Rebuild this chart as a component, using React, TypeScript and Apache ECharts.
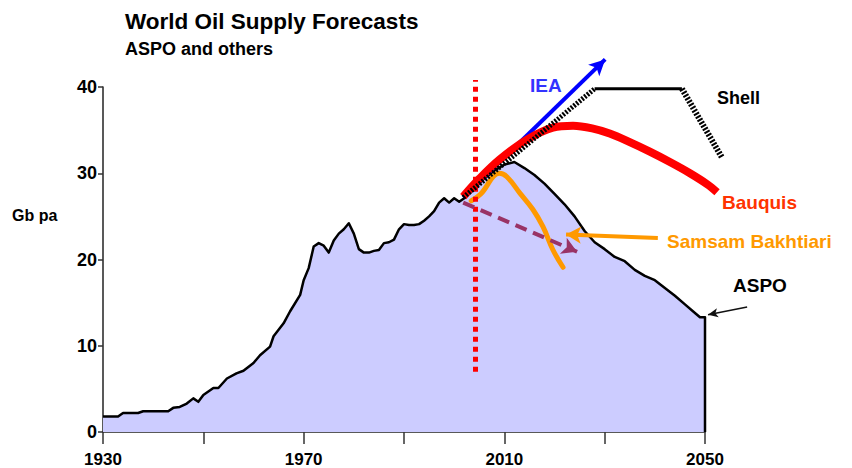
import { useEffect, useRef } from "react";
import * as echarts from "echarts";

// ---- Axis ticks ----
const xTickLabels = [1930, 1970, 2010, 2050];
const yTickValues = [0, 10, 20, 30, 40];

// ---- ASPO history + forecast (Gb per annum) ----
const aspoYears = [
  1930, 1933, 1934, 1937, 1938, 1943, 1944, 1945.3, 1946.7, 1948, 1949, 1950, 1952, 1953, 1954.7,
  1956.6, 1958, 1960, 1961.3, 1963.3, 1964, 1966, 1967.3, 1969.3, 1970, 1971, 1972, 1973, 1974,
  1975, 1976, 1977, 1978, 1979, 1980, 1981, 1982, 1983, 1984, 1985, 1986, 1987, 1988, 1989, 1990,
  1991, 1992, 1993, 1994, 1995, 1996, 1997, 1998, 1999, 2000, 2001, 2002, 2004, 2006, 2008, 2010,
  2012, 2014, 2016, 2018, 2020, 2022, 2024, 2026, 2028, 2030, 2032, 2034, 2036, 2038, 2040, 2042,
  2044, 2046, 2048, 2049, 2050, 2050,
];
const aspoValues = [
  1.8, 1.8, 2.2, 2.2, 2.4, 2.4, 2.8, 2.9, 3.3, 3.9, 3.5, 4.3, 5.1, 5.1, 6.2,
  6.8, 7.1, 8.0, 8.9, 9.9, 11.1, 12.6, 14.0, 15.9, 17.6, 19.0, 21.5, 21.9, 21.6,
  20.8, 22.2, 23.0, 23.5, 24.2, 23.0, 21.2, 20.8, 20.8, 21.0, 21.1, 21.9, 22.0, 22.3, 23.5, 24.1,
  24.0, 24.0, 24.1, 24.5, 25.0, 25.6, 26.6, 27.1, 26.6, 27.1, 26.7, 27.1, 28.2, 29.4, 30.3, 31.0,
  31.3, 30.6, 29.8, 28.8, 27.6, 26.4, 25.0, 23.3, 22.0, 21.2, 20.3, 19.8, 18.8, 18.1, 17.6, 16.7,
  15.8, 14.8, 13.8, 13.3, 13.3, 0,
];

// ---- Other forecasts ----
const bauquisYears = [2001.8, 2005.1, 2009.1, 2014.5, 2019.7, 2023.7, 2027.5, 2031, 2035, 2039, 2043, 2047, 2050.5, 2052.4];
const bauquisValues = [27.3, 29.4, 31.6, 33.9, 35.3, 35.5, 35.2, 34.6, 33.6, 32.5, 31.3, 30.0, 28.7, 27.8];

const samsamYears = [2003.4, 2005.3, 2009.0, 2010.5, 2013.1, 2015.7, 2017.7, 2019.7, 2021.7];
const samsamValues = [26.8, 27.6, 30.0, 29.6, 27.7, 25.8, 23.8, 21.1, 19.1];

const shellYears = [2001.8, 2028.0, 2045.4, 2053.4];
const shellValues = [27.2, 39.8, 39.8, 31.8];

const ieaYears = [2001.8, 2030.1];
const ieaValues = [27.2, 43.2];

const deffeyesYears = [2001.8, 2024.5];
const deffeyesValues = [26.6, 20.9];

// annotation pointers
const samsamPointerYears = [2040.6, 2022.3];
const samsamPointerValues = [22.5, 22.9];
const aspoPointerYears = [2058.4, 2050.6];
const aspoPointerValues = [14.5, 13.6];

// 2005 marker
const markerYear = 2004.2;
const markerRange = [7.0, 40.8];

const FONT = '"Liberation Sans", Arial, sans-serif';

const pairs = (xs: number[], ys: number[]) => xs.map((x, i) => [x, ys[i]]);

function arrowSeries(
  name: string,
  xs: number[],
  ys: number[],
  color: string,
  width: number,
  type: any,
  size: number[],
  z: number
) {
  return {
    name,
    type: "line",
    xAxisIndex: 1,
    yAxisIndex: 1,
    data: [],
    silent: true,
    z,
    markLine: {
      silent: true,
      symbol: ["none", "arrow"],
      symbolSize: size,
      label: { show: false },
      emphasis: { disabled: true },
      lineStyle: { color, width, type },
      data: [[{ coord: [xs[0], ys[0]] }, { coord: [xs[1], ys[1]] }]],
    },
  };
}

export default function App() {
  const ref = useRef<HTMLDivElement>(null);

  useEffect(() => {
    if (!ref.current) return;
    const chart = echarts.init(ref.current, null, { renderer: "svg" });

    const pxPerYear = 602 / 120;
    const pxPerUnit = 345 / 40;
    const hidXMin = 1910;
    const hidXMax = 2070;
    const hidYMax = 50;

    const shellPts = pairs(shellYears, shellValues);

    const option: any = {
      animation: false,
      backgroundColor: "#ffffff",
      grid: [
        { left: 103, top: 87, width: 602, height: 345 },
        {
          left: 103 - (1930 - hidXMin) * pxPerYear,
          width: (hidXMax - hidXMin) * pxPerYear,
          top: 432 - hidYMax * pxPerUnit,
          height: hidYMax * pxPerUnit,
        },
      ],
      xAxis: [
        {
          type: "value",
          gridIndex: 0,
          min: 1930,
          max: 2050,
          interval: 20,
          axisLine: { show: true, lineStyle: { color: "#222", width: 1.5 } },
          axisTick: { show: true, length: 12, lineStyle: { color: "#333", width: 1.5 } },
          splitLine: { show: false },
          axisLabel: {
            margin: 19,
            color: "#000",
            fontFamily: FONT,
            fontWeight: "bold",
            fontSize: 17,
            formatter: (v: number) => (xTickLabels.includes(v) ? String(v) : ""),
          },
        },
        { type: "value", gridIndex: 1, min: hidXMin, max: hidXMax, show: false },
      ],
      yAxis: [
        {
          type: "value",
          gridIndex: 0,
          min: 0,
          max: 40,
          interval: 10,
          axisLine: { show: true, lineStyle: { color: "#222", width: 1.5 } },
          axisTick: { show: true, length: 5, lineStyle: { color: "#333", width: 1.5 } },
          splitLine: { show: false },
          axisLabel: {
            margin: 6,
            color: "#000",
            fontFamily: FONT,
            fontWeight: "bold",
            fontSize: 18,
            formatter: (v: number) => (yTickValues.includes(v) ? String(v) : ""),
          },
        },
        { type: "value", gridIndex: 1, min: 0, max: hidYMax, show: false },
      ],
      series: [
        {
          name: "ASPO",
          type: "line",
          xAxisIndex: 1,
          yAxisIndex: 1,
          data: pairs(aspoYears, aspoValues),
          symbol: "none",
          silent: true,
          z: 1,
          lineStyle: { color: "#000", width: 2.5, join: "round" },
          areaStyle: { color: "#ccccff", opacity: 1 },
        },
        {
          name: "2005",
          type: "line",
          xAxisIndex: 1,
          yAxisIndex: 1,
          data: [],
          z: 2,
          markLine: {
            silent: true,
            symbol: ["none", "none"],
            label: { show: false },
            lineStyle: { color: "#ff0000", width: 5, type: [5, 5] },
            data: [[{ coord: [markerYear, markerRange[0]] }, { coord: [markerYear, markerRange[1]] }]],
          },
        },
        arrowSeries("Deffeyes", deffeyesYears, deffeyesValues, "#993366", 4, [12, 7], [13, 15], 3),
        {
          name: "Samsam Bakhtiari",
          type: "line",
          xAxisIndex: 1,
          yAxisIndex: 1,
          data: pairs(samsamYears, samsamValues),
          smooth: 0.4,
          symbol: "none",
          silent: true,
          z: 4,
          lineStyle: { color: "#ff9900", width: 5, cap: "round" },
        },
        arrowSeries("Samsam pointer", samsamPointerYears, samsamPointerValues, "#ff9900", 4, "solid", [13, 15], 4),
        arrowSeries("IEA", ieaYears, ieaValues, "#0000ff", 4, "solid", [12, 16], 5),
        {
          name: "Bauquis",
          type: "line",
          xAxisIndex: 1,
          yAxisIndex: 1,
          data: pairs(bauquisYears, bauquisValues),
          smooth: 0.35,
          symbol: "none",
          silent: true,
          z: 6,
          lineStyle: { color: "#ff0000", width: 8, cap: "butt" },
        },
        {
          name: "Shell rise",
          type: "line",
          xAxisIndex: 1,
          yAxisIndex: 1,
          data: shellPts.slice(0, 2),
          symbol: "none",
          silent: true,
          z: 7,
          lineStyle: { color: "#000", width: 5, type: [2, 1.5] },
        },
        {
          name: "Shell plateau",
          type: "line",
          xAxisIndex: 1,
          yAxisIndex: 1,
          data: shellPts.slice(1, 3),
          symbol: "none",
          silent: true,
          z: 7,
          lineStyle: { color: "#000", width: 3 },
        },
        {
          name: "Shell decline",
          type: "line",
          xAxisIndex: 1,
          yAxisIndex: 1,
          data: shellPts.slice(2, 4),
          symbol: "none",
          silent: true,
          z: 7,
          lineStyle: { color: "#000", width: 6, type: [2, 1.5] },
        },
        arrowSeries("ASPO pointer", aspoPointerYears, aspoPointerValues, "#111", 1.5, "solid", [7, 10], 8),
      ],
      graphic: [
        { type: "text", x: 125, y: 21, style: { text: "World Oil Supply Forecasts", font: `bold 22.5px ${FONT}`, fill: "#000", textVerticalAlign: "middle" } },
        { type: "text", x: 125, y: 49, style: { text: "ASPO and others", font: `bold 18px ${FONT}`, fill: "#000", textVerticalAlign: "middle" } },
        { type: "text", x: 12, y: 215, style: { text: "Gb pa", font: `bold 16px ${FONT}`, fill: "#000", textVerticalAlign: "middle" } },
        { type: "text", x: 530, y: 85, style: { text: "IEA", font: `bold 19px ${FONT}`, fill: "#3333ff", textVerticalAlign: "middle" } },
        { type: "text", x: 717, y: 98, style: { text: "Shell", font: `bold 18px ${FONT}`, fill: "#000", textVerticalAlign: "middle" } },
        { type: "text", x: 722, y: 202, style: { text: "Bauquis", font: `bold 19px ${FONT}`, fill: "#ff3300", textVerticalAlign: "middle" } },
        { type: "text", x: 667, y: 241, style: { text: "Samsam Bakhtiari", font: `bold 19px ${FONT}`, fill: "#ff9900", textVerticalAlign: "middle" } },
        { type: "text", x: 517, y: 275, style: { text: "Deffeyes", font: `bold 19px ${FONT}`, fill: "#993366", textVerticalAlign: "middle" } },
        { type: "text", x: 733, y: 285, style: { text: "ASPO", font: `bold 19px ${FONT}`, fill: "#000", textVerticalAlign: "middle" } },
        { type: "text", x: 474, y: 400, style: { text: "2005", font: `bold 25px ${FONT}`, fill: "#ff3300", textAlign: "center", textVerticalAlign: "middle" } },
      ],
    };

    chart.setOption(option);
    return () => chart.dispose();
  }, []);

  return (
    <div
      ref={ref}
      style={{ position: "fixed", left: 0, top: 0, width: 852, height: 468, background: "#fff" }}
    />
  );
}
